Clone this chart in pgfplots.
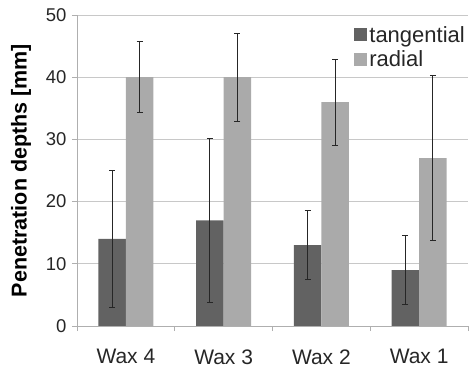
\documentclass[border=0pt]{standalone}
\usepackage{pgfplots}
\pgfplotsset{compat=1.18}
\usepackage{fontspec}
\setmainfont{Liberation Sans}
\definecolor{tang}{RGB}{98,98,98}
\definecolor{rad}{RGB}{170,170,170}
\definecolor{gridc}{RGB}{200,200,200}
\definecolor{axc}{RGB}{175,175,175}
\begin{document}
\begin{tikzpicture}
\useasboundingbox (-77bp,-42bp) rectangle (392bp,326bp);
\begin{axis}[
  at={(0,0)}, anchor=south west,
  scale only axis, width=391bp, height=311bp,
  xmin=0, xmax=4, ymin=0, ymax=50,
  ybar=0pt, bar width=27.5bp,
  axis lines*=left,
  axis line style={draw=axc, line width=0.8bp},
  xtick={0,1,2,3,4},
  xticklabels={Wax 4,Wax 3,Wax 2,Wax 1},
  x tick label as interval,
  ytick={0,10,...,50},
  ymajorgrids, grid style={draw=gridc, line width=0.8bp},
  tick align=outside, major tick length=5bp,
  tick style={draw=axc, line width=0.8bp},
  /pgf/number format/assume math mode=true,
  ticklabel style={font=\fontsize{18.5bp}{20bp}\selectfont, text=black!85},
  xticklabel style={font=\fontsize{21bp}{22bp}\selectfont, yshift=-15bp},
  yticklabel style={xshift=-2bp},
  ylabel={\bfseries Penetration depths [mm]},
  ylabel style={font=\fontsize{21.5bp}{22bp}\selectfont, at={(axis description cs:-0.1432,0.5)}, anchor=center},
  legend style={at={(rel axis cs:1,1)}, anchor=north east, yshift=-8bp, draw=none, fill=none,
    font=\fontsize{22bp}{23bp}\selectfont, row sep=3bp, inner sep=1bp,
    nodes={inner sep=2bp, text=black!85}},
  legend cell align=left,
  legend image code/.code={\fill[#1] (0bp,-6.5bp) rectangle (13bp,6.5bp);},
  error bars/error bar style={draw=black!85, line width=0.9bp},
  error bars/error mark options={draw=black!85, line width=0.9bp, mark size=3bp, rotate=90},
]
\addplot[fill=tang, draw=none, bar shift=-13.75bp,
  error bars/.cd, y dir=both, y explicit]
  coordinates {
    (0.5,14) +- (0,11)
    (1.5,17) +- (0,13.2)
    (2.5,13) +- (0,5.5)
    (3.5,9)  +- (0,5.5)
  };
\addplot[fill=rad, draw=none, bar shift=13.75bp,
  error bars/.cd, y dir=both, y explicit]
  coordinates {
    (0.5,40) +- (0,5.7)
    (1.5,40) +- (0,7.1)
    (2.5,36) +- (0,6.9)
    (3.5,27) +- (0,13.3)
  };
\legend{tangential,radial}
\end{axis}
\end{tikzpicture}
\end{document}
